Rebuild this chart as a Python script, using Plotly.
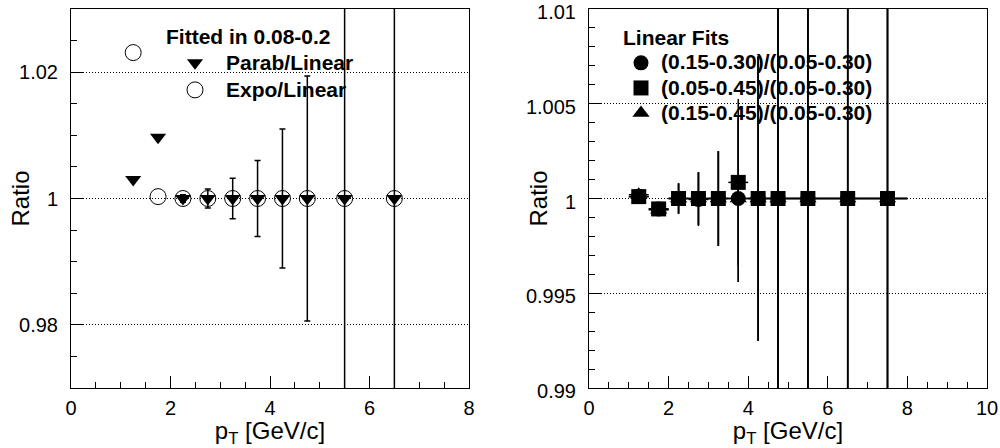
import plotly.graph_objects as go

# ---------------- Left panel data ----------------
pt_left = [1.25, 1.75, 2.25, 2.75, 3.25, 3.75, 4.25, 4.75, 5.5, 6.5]
parab_linear = [1.0030, 1.0097, 1.0, 1.0, 1.0, 1.0, 1.0, 1.0, 1.0, 1.0]
expo_linear = [1.0231, 1.0003, 1.0, 1.0, 1.0, 1.0, 1.0, 1.0, 1.0, 1.0]
err_left = [0.0, 0.0, 0.0006, 0.0015, 0.0032, 0.0060, 0.0110, 0.0194, 0.05, 0.08]

# ---------------- Right panel data ----------------
pt_right = [1.25, 1.75, 2.25, 2.75, 3.25, 3.75, 4.25, 4.75, 5.5, 6.5, 7.5]
pt_halfwidth = [0.25, 0.25, 0.25, 0.25, 0.25, 0.25, 0.25, 0.25, 0.5, 0.5, 0.5]
fit_15_30 = [1.0001, 0.99945, 1.0, 0.99995, 1.0, 1.0, 1.0, 1.0, 1.0, 1.0, 1.0]
fit_05_45 = [1.0001, 0.99945, 1.0, 1.0, 1.0, 1.00085, 1.0, 1.0, 1.0, 1.0, 1.0]
fit_15_45 = [1.0002, 0.9994, 1.0, 1.0, 1.0, 1.0, 1.0, 1.0, 1.0, 1.0, 1.0]
err_right = [0.0003, 0.0002, 0.0008, 0.0014, 0.0025, 0.0044, 0.0075, 0.02, 0.03, 0.05, 0.08]

FONT = "Liberation Sans, Arial, Helvetica, sans-serif"
BIG = 21

def lg(t):
    return '<span style="font-size:%dpx">%s</span>' % (BIG, t)

fig = go.Figure()

# Left panel
fig.add_trace(go.Scatter(
    x=pt_left, y=expo_linear, mode="markers", name=lg("Expo/Linear"),
    legend="legend", legendrank=2,
    marker=dict(symbol="circle-open", size=16, color="black", line=dict(width=1, color="black")),
    xaxis="x", yaxis="y"))
fig.add_trace(go.Scatter(
    x=pt_left, y=parab_linear, mode="markers", name=lg("Parab/Linear"),
    legend="legend", legendrank=1,
    marker=dict(symbol="triangle-down", size=14, color="black"),
    error_y=dict(type="data", array=err_left, color="black", thickness=1.5, width=3),
    xaxis="x", yaxis="y"))

# Right panel
fig.add_trace(go.Scatter(
    x=pt_right, y=fit_15_30, mode="markers", name=lg("(0.15-0.30)/(0.05-0.30)"),
    legend="legend2", legendrank=1,
    marker=dict(symbol="circle", size=15, color="black"),
    error_x=dict(type="data", array=pt_halfwidth, color="black", thickness=1.5, width=0),
    error_y=dict(type="data", array=err_right, color="black", thickness=1.5, width=0),
    xaxis="x2", yaxis="y2"))
fig.add_trace(go.Scatter(
    x=pt_right, y=fit_15_45, mode="markers", name=lg("(0.15-0.45)/(0.05-0.30)"),
    legend="legend2", legendrank=3,
    marker=dict(symbol="triangle-up", size=15, color="black"),
    error_x=dict(type="data", array=pt_halfwidth, color="black", thickness=1.5, width=0),
    error_y=dict(type="data", array=err_right, color="black", thickness=1.5, width=0),
    xaxis="x2", yaxis="y2"))
fig.add_trace(go.Scatter(
    x=pt_right, y=fit_05_45, mode="markers", name=lg("(0.05-0.45)/(0.05-0.30)"),
    legend="legend2", legendrank=2,
    marker=dict(symbol="square", size=15, color="black"),
    error_x=dict(type="data", array=pt_halfwidth, color="black", thickness=1.5, width=0),
    error_y=dict(type="data", array=err_right, color="black", thickness=1.5, width=0),
    xaxis="x2", yaxis="y2"))

ydom = [1 - 388 / 448, 1 - 9 / 448]
ymid = (ydom[0] + ydom[1]) / 2

common_x = dict(
    ticks="inside", ticklen=12, tickwidth=1, tickcolor="black",
    showline=True, mirror=True, linecolor="black", linewidth=1,
    showgrid=False, zeroline=False, automargin=False, ticklabeloverflow="allow",
    tickfont=dict(family=FONT, size=20, color="black"),
    title=dict(text="p<sub>T</sub> [GeV/c]", font=dict(family=FONT, size=24, color="black"), standoff=4),
    ticklabelstandoff=2,
)
common_y = dict(
    ticks="inside", ticklen=12, tickwidth=1, tickcolor="black",
    showline=True, mirror=True, linecolor="black", linewidth=1,
    showgrid=True, gridcolor="black", griddash="1px,2px", gridwidth=1, zeroline=False,
    automargin=False, ticklabeloverflow="allow",
    tickfont=dict(family=FONT, size=20, color="black"),
    ticklabelstandoff=8,
)

title_font = dict(family=FONT, size=24, color="black")

fig.update_layout(
    width=1000, height=448,
    margin=dict(l=0, r=0, t=0, b=0, autoexpand=False),
    paper_bgcolor="white", plot_bgcolor="white",
    font=dict(family=FONT, color="black"),
    xaxis=dict(domain=[71 / 1000, 469 / 1000], range=[0, 8], dtick=2, anchor="y",
               minor=dict(dtick=0.5, ticklen=6, ticks="inside", tickcolor="black"), **common_x),
    yaxis=dict(domain=ydom, range=[0.97, 1.03], dtick=0.02, anchor="x",
               minor=dict(dtick=0.005, ticklen=6, ticks="inside", tickcolor="black"), **common_y),
    xaxis2=dict(domain=[589 / 1000, 987 / 1000], range=[0, 10], dtick=2, anchor="y2",
                minor=dict(dtick=0.5, ticklen=6, ticks="inside", tickcolor="black"), **common_x),
    yaxis2=dict(domain=ydom, range=[0.99, 1.0100001], dtick=0.005, tick0=1, anchor="x2",
                ticklabelshift=3,
                minor=dict(dtick=0.001, ticklen=6, ticks="inside", tickcolor="black"), **common_y),
    legend=dict(x=0.164, y=1 - 17 / 448, xanchor="left", yanchor="top",
                bgcolor="rgba(0,0,0,0)", borderwidth=0, itemwidth=52,
                font=dict(family=FONT, size=18.5, weight="bold", color="black"),
                title=dict(text="Fitted in 0.08-0.2", font=dict(family=FONT, size=BIG, weight="bold", color="black"))),
    legend2=dict(x=0.621, y=1 - 18 / 448, xanchor="left", yanchor="top",
                 bgcolor="rgba(0,0,0,0)", borderwidth=0, itemwidth=30,
                 font=dict(family=FONT, size=17, weight="bold", color="black"),
                 title=dict(text="Linear Fits", font=dict(family=FONT, size=BIG, weight="bold", color="black"))),
    showlegend=True,
    annotations=[
        dict(text="Ratio", textangle=-90, xref="paper", yref="paper", x=0.020, y=ymid,
             xanchor="center", yanchor="middle", showarrow=False, font=title_font),
        dict(text="Ratio", textangle=-90, xref="paper", yref="paper", x=0.538, y=ymid,
             xanchor="center", yanchor="middle", showarrow=False, font=title_font),
    ],
)

fig.write_html("out.html", config={"displayModeBar": False},
               post_script="document.body.style.margin='0';document.body.style.overflow='hidden';")
